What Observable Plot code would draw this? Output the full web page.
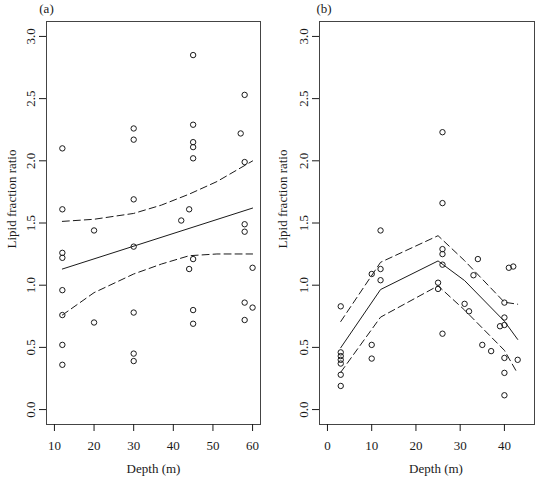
<!DOCTYPE html>
<html><head><meta charset="utf-8">
<script src="https://cdn.jsdelivr.net/npm/d3@7"></script>
<script src="https://cdn.jsdelivr.net/npm/@observablehq/plot@0.6"></script>
<style>
body{margin:0;background:#fff;}
#chart{display:flex;width:537px;height:477px;overflow:hidden;}
#chart svg{display:block;}
</style></head><body><div id="chart"></div>
<script>
// Panel (a)
const depthA = [12,12,12,12,12,12,12,12, 20,20, 30,30,30,30,30,30,30, 42, 44,44, 45,45,45,45,45,45,45,45, 57, 58,58,58,58,58,58, 60,60];
const ratioA = [2.10,1.61,1.26,1.22,0.96,0.76,0.52,0.36, 1.44,0.70, 2.26,2.17,1.69,1.31,0.78,0.45,0.39, 1.52, 1.61,1.13, 2.85,2.29,2.15,2.11,2.02,1.21,0.80,0.69, 2.22, 2.53,1.99,1.49,1.43,0.86,0.72, 1.14,0.82];
const fitXA = [12, 60];
const fitYA = [1.13, 1.62];
const bandXA = [12, 20, 30, 37, 44, 51, 60];
const upperA = [1.513, 1.53, 1.577, 1.644, 1.732, 1.833, 1.999];
const lowerA = [0.76, 0.94, 1.09, 1.17, 1.237, 1.251, 1.251];
const xTicksA = [10, 20, 30, 40, 50, 60];

// Panel (b)
const depthB = [3,3,3,3,3,3,3, 10,10,10, 12,12,12, 25,25, 26,26,26,26,26,26, 31, 32, 33, 34, 35, 37, 39, 40,40,40,40,40,40, 41, 42, 43];
const ratioB = [0.83,0.46,0.43,0.40,0.37,0.28,0.19, 1.09,0.52,0.41, 1.44,1.13,1.04, 1.02,0.97, 2.23,1.66,1.29,1.25,1.165,0.61, 0.85, 0.79, 1.08, 1.21, 0.52, 0.47, 0.67, 0.86,0.74,0.68,0.415,0.295,0.115, 1.14, 1.15, 0.40];
const fitXB = [3, 12, 25, 31, 40, 43];
const fitYB = [0.497, 0.965, 1.195, 1.037, 0.71, 0.564];
const upperB = [0.708, 1.184, 1.398, 1.197, 0.863, 0.847];
const lowerB = [0.30, 0.743, 0.995, 0.80, 0.476, 0.289];
const xTicksB = [0, 10, 20, 30, 40];

const yTicks = [0, 0.5, 1, 1.5, 2, 2.5, 3];
const xLabel = "Depth (m)";
const yLabel = "Lipid fraction ratio";
const tags = ["(a)", "(b)"];

function panel(o) {
  const pts = o.depth.map((d, i) => ({d, r: o.ratio[i]}));
  const fit = o.fitX.map((d, i) => ({d, r: o.fitY[i]}));
  const up = o.bandX.map((d, i) => ({d, r: o.upper[i]}));
  const lo = o.bandX.map((d, i) => ({d, r: o.lower[i]}));
  return Plot.plot({
    width: o.w, height: 477,
    marginLeft: o.ml, marginRight: o.mr, marginTop: 21, marginBottom: 53,
    style: {fontFamily: "'Liberation Serif', 'Times New Roman', serif", fontSize: "13px", color: "#1a1a1a", background: "white"},
    x: {domain: o.xDomain},
    y: {domain: [-0.12, 3.12]},
    marks: [
      Plot.frame({stroke: "#444", strokeWidth: 1}),
      Plot.axisX({ticks: o.xTicks, tickSize: 7, tickPadding: 9, label: null, tickFormat: d => String(d)}),
      Plot.axisY({ticks: yTicks, tickSize: 7, tickRotate: -90, tickPadding: 5, label: null, tickFormat: d3.format(".1f")}),
      Plot.line(fit, {x: "d", y: "r", stroke: "#1a1a1a", strokeWidth: 1}),
      Plot.line(up, {x: "d", y: "r", stroke: "#1a1a1a", strokeWidth: 1, strokeDasharray: "7,4"}),
      Plot.line(lo, {x: "d", y: "r", stroke: "#1a1a1a", strokeWidth: 1, strokeDasharray: "7,4"}),
      Plot.dot(pts, {x: "d", y: "r", r: 2.7, stroke: "#1a1a1a", strokeWidth: 1, fill: "none"}),
      Plot.text([xLabel], {text: d => d, frameAnchor: "bottom", textAnchor: "middle", lineAnchor: "middle", dy: 44, dx: o.xlabDx, fontSize: 13}),
      Plot.text([yLabel], {text: d => d, frameAnchor: "left", textAnchor: "middle", lineAnchor: "middle", rotate: -90, dx: o.ylabDx, dy: -24, fontSize: 13}),
      Plot.text([o.tag], {text: d => d, frameAnchor: "top-left", textAnchor: "middle", lineAnchor: "middle", dx: o.tagDx, dy: -13, fontSize: 13})
    ]
  });
}

const chart = document.getElementById("chart");
chart.append(panel({w: 268, ml: 46, mr: 8, xDomain: [8, 62], xTicks: xTicksA,
  depth: depthA, ratio: ratioA, fitX: fitXA, fitY: fitYA, bandX: bandXA, upper: upperA, lower: lowerA,
  tag: tags[0], tagDx: 0, xlabDx: 0, ylabDx: -35}));
chart.append(panel({w: 269, ml: 51, mr: 3, xDomain: [-1.8, 46.8], xTicks: xTicksB,
  depth: depthB, ratio: ratioB, fitX: fitXB, fitY: fitYB, bandX: fitXB, upper: upperB, lower: lowerB,
  tag: tags[1], tagDx: 4.5, xlabDx: 9, ylabDx: -37}));
</script>
</body></html>
